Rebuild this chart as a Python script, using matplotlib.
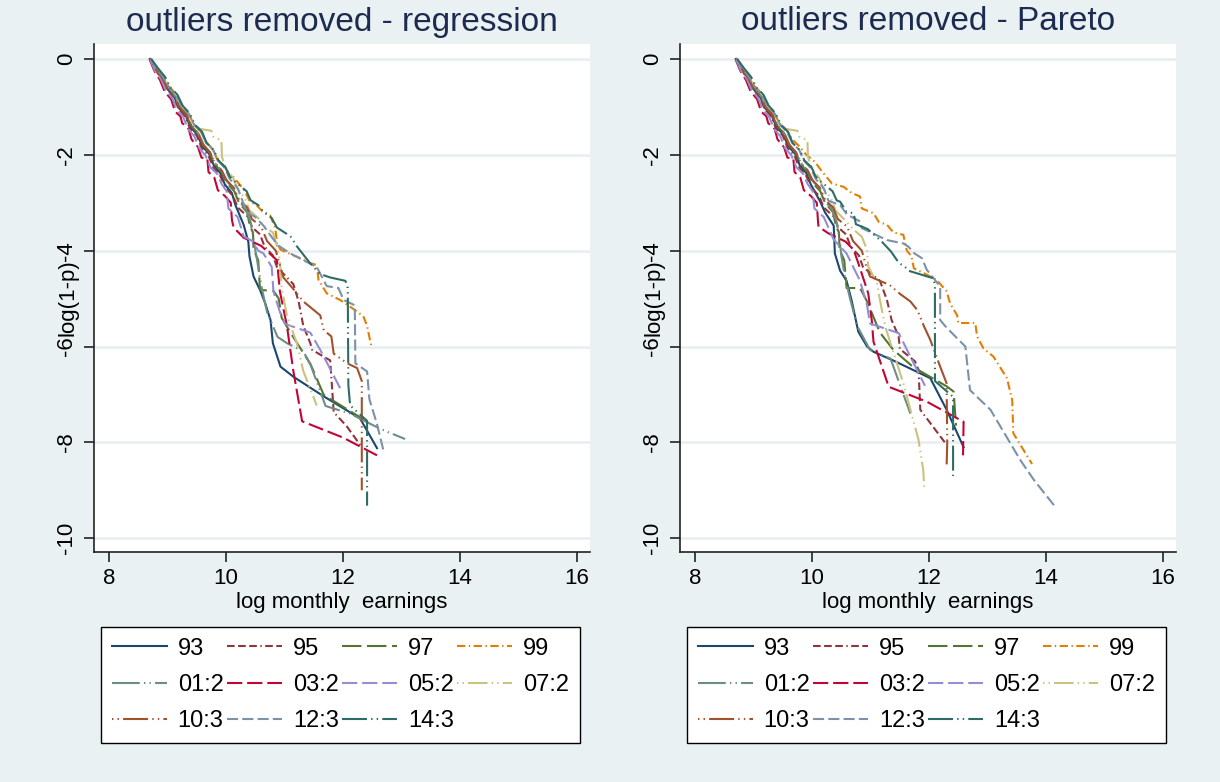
import matplotlib
matplotlib.use('Agg')
import matplotlib.pyplot as plt

plt.rcParams['font.family'] = ['Liberation Sans', 'DejaVu Sans']
plt.rcParams['lines.scale_dashes'] = False

#
# Data
#
labels = ['93', '95', '97', '99', '01:2', '03:2', '05:2', '07:2', '10:3', '12:3', '14:3']
titles = ['outliers removed - regression', 'outliers removed - Pareto']
xticks = [8, 10, 12, 14, 16]
yticks = [0, -2, -4, -6, -8, -10]

# regression panel: (log monthly earnings, log(1-p))
reg_93 = [(8.70, 0.00), (8.79, -0.22), (8.91, -0.40), (8.99, -0.62), (9.11, -0.78), (9.19, -1.02), (9.31, -1.18),
          (9.39, -1.42), (9.51, -1.58), (9.59, -1.82), (9.71, -1.98), (9.79, -2.22), (9.90, -2.38), (9.98, -2.62),
          (10.10, -2.80), (10.16, -3.05), (10.30, -3.46), (10.38, -3.81), (10.40, -4.12), (10.47, -4.54),
          (10.58, -4.82), (10.67, -5.10), (10.76, -5.45), (10.80, -5.93), (10.93, -6.42), (11.15, -6.63),
          (11.67, -7.04), (12.29, -7.50), (12.58, -8.12)]
reg_95 = [(8.70, 0.00), (8.80, -0.24), (8.90, -0.42), (9.00, -0.64), (9.10, -0.80), (9.19, -1.04), (9.30, -1.20),
          (9.38, -1.44), (9.50, -1.60), (9.58, -1.85), (9.70, -2.02), (9.78, -2.26), (9.90, -2.44), (10.00, -2.70),
          (10.12, -2.86), (10.20, -3.10), (10.36, -3.28), (10.45, -3.52), (10.58, -3.66), (10.66, -3.92),
          (10.80, -4.10), (10.87, -4.34), (11.15, -4.70), (11.24, -5.06), (11.32, -5.57), (11.44, -5.93),
          (11.47, -6.07), (11.78, -6.29), (11.84, -7.37), (12.06, -7.66), (12.32, -8.10)]
reg_97 = [(8.70, 0.00), (8.80, -0.20), (8.91, -0.40), (9.01, -0.60), (9.12, -0.78), (9.21, -1.00), (9.32, -1.16),
          (9.41, -1.40), (9.52, -1.56), (9.61, -1.80), (9.72, -1.96), (9.81, -2.20), (9.92, -2.36), (10.02, -2.60),
          (10.14, -2.76), (10.22, -3.00), (10.36, -3.20), (10.41, -3.50), (10.46, -3.62), (10.47, -3.98),
          (10.55, -4.20), (10.58, -4.82), (10.81, -4.84), (10.90, -5.00), (10.95, -5.40), (11.10, -5.71),
          (11.44, -6.36), (11.67, -7.01), (12.35, -7.52)]
reg_99 = [(8.71, 0.00), (8.82, -0.20), (8.93, -0.38), (9.03, -0.58), (9.15, -0.74), (9.24, -0.96), (9.35, -1.12),
          (9.44, -1.34), (9.56, -1.50), (9.65, -1.72), (9.77, -1.88), (9.85, -2.10), (9.97, -2.24), (10.05, -2.40),
          (10.13, -2.47), (10.30, -2.72), (10.41, -2.98), (10.52, -3.05), (10.62, -3.18), (10.75, -3.26),
          (10.84, -3.52), (10.87, -3.84), (10.93, -3.98), (11.27, -4.16), (11.44, -4.26), (11.55, -4.30),
          (11.58, -4.61), (11.72, -4.89), (11.95, -5.03), (12.24, -5.27), (12.35, -5.38), (12.41, -5.57),
          (12.49, -6.04)]
reg_012 = [(8.70, 0.00), (8.81, -0.21), (8.92, -0.41), (9.02, -0.61), (9.13, -0.78), (9.22, -1.01), (9.33, -1.17),
           (9.42, -1.40), (9.53, -1.56), (9.62, -1.80), (9.73, -1.96), (9.82, -2.18), (9.93, -2.34), (10.02, -2.56),
           (10.14, -2.72), (10.22, -2.96), (10.34, -3.14), (10.42, -3.40), (10.47, -3.77), (10.53, -4.20),
           (10.61, -4.78), (10.70, -5.28), (10.81, -5.60), (10.88, -5.80), (11.04, -5.93), (11.32, -6.10),
           (11.45, -6.40), (11.70, -7.24), (12.12, -7.40), (12.64, -7.72), (13.06, -7.93)]
reg_032 = [(8.69, 0.00), (8.77, -0.24), (8.87, -0.44), (8.95, -0.68), (9.06, -0.84), (9.13, -1.10), (9.22, -1.20),
           (9.25, -1.34), (9.36, -1.46), (9.41, -1.68), (9.52, -1.84), (9.58, -2.06), (9.68, -2.08), (9.70, -2.36),
           (9.80, -2.48), (9.86, -2.74), (9.98, -2.86), (10.08, -3.00), (10.10, -3.36), (10.13, -3.52),
           (10.30, -3.73), (10.60, -3.90), (10.87, -4.20), (10.92, -4.85), (11.04, -5.57), (11.15, -6.51),
           (11.30, -7.56), (12.00, -7.90), (12.58, -8.27)]
reg_052 = [(8.70, 0.00), (8.78, -0.24), (8.89, -0.43), (8.97, -0.66), (9.08, -0.82), (9.16, -1.06), (9.27, -1.22),
           (9.35, -1.46), (9.46, -1.62), (9.54, -1.86), (9.65, -2.02), (9.73, -2.26), (9.85, -2.40), (9.92, -2.60),
           (10.01, -2.76), (10.04, -3.12), (10.20, -3.30), (10.30, -3.70), (10.45, -3.80), (10.55, -4.00),
           (10.64, -4.06), (10.78, -4.34), (10.81, -4.85), (10.92, -5.28), (11.01, -5.53), (11.44, -5.71),
           (11.61, -6.07), (11.95, -6.87)]
reg_072 = [(8.71, 0.00), (8.81, -0.20), (8.92, -0.38), (9.02, -0.58), (9.14, -0.74), (9.22, -0.96), (9.34, -1.12),
           (9.42, -1.34), (9.55, -1.46), (9.75, -1.50), (9.78, -1.62), (9.92, -1.70), (9.93, -2.05), (10.00, -2.30),
           (10.12, -2.48), (10.20, -2.72), (10.32, -2.90), (10.40, -3.16), (10.55, -3.32), (10.65, -3.50),
           (10.80, -3.62), (10.87, -3.91), (10.92, -4.20), (10.95, -4.78), (11.04, -5.35), (11.21, -5.93),
           (11.32, -6.51), (11.55, -7.23)]
reg_103 = [(8.70, 0.00), (8.80, -0.21), (8.91, -0.40), (9.00, -0.61), (9.12, -0.77), (9.20, -1.00), (9.32, -1.16),
           (9.40, -1.40), (9.52, -1.55), (9.60, -1.78), (9.72, -1.94), (9.80, -2.16), (9.92, -2.32), (10.00, -2.52),
           (10.14, -2.70), (10.22, -2.94), (10.36, -3.10), (10.44, -3.34), (10.60, -3.50), (10.70, -3.80),
           (10.85, -4.00), (10.92, -4.30), (10.98, -4.56), (11.15, -4.80), (11.32, -5.06), (11.47, -5.21),
           (11.61, -5.35), (11.67, -5.66), (11.80, -5.79), (11.84, -6.15), (12.07, -6.35), (12.24, -6.45),
           (12.32, -6.72), (12.32, -9.00)]
reg_123 = [(8.71, 0.00), (8.82, -0.21), (8.93, -0.39), (9.03, -0.60), (9.15, -0.76), (9.24, -0.98), (9.36, -1.14),
           (9.45, -1.37), (9.57, -1.52), (9.66, -1.75), (9.78, -1.90), (9.86, -2.12), (9.98, -2.28), (10.06, -2.50),
           (10.20, -2.70), (10.28, -2.96), (10.35, -3.19), (10.50, -3.30), (10.64, -3.48), (10.80, -3.75),
           (10.90, -3.90), (11.10, -4.06), (11.32, -4.20), (11.55, -4.34), (11.72, -4.74), (11.92, -4.78),
           (12.01, -5.03), (12.20, -5.14), (12.21, -6.35), (12.41, -6.52), (12.45, -7.10), (12.58, -7.62),
           (12.69, -8.17)]
reg_143 = [(8.72, 0.00), (8.84, -0.20), (8.96, -0.38), (9.05, -0.60), (9.17, -0.75), (9.26, -0.98), (9.38, -1.14),
           (9.47, -1.38), (9.59, -1.52), (9.67, -1.76), (9.79, -1.90), (9.87, -2.12), (9.99, -2.26), (10.06, -2.45),
           (10.13, -2.54), (10.35, -2.76), (10.42, -2.95), (10.55, -3.05), (10.64, -3.19), (10.78, -3.32),
           (10.87, -3.52), (11.10, -3.70), (11.21, -3.91), (11.44, -4.27), (11.61, -4.49), (11.78, -4.56),
           (12.04, -4.63), (12.08, -4.78), (12.09, -6.80), (12.12, -7.23), (12.41, -7.55), (12.41, -9.32)]

# Pareto panel
par_93 = [(8.70, 0.00), (8.79, -0.22), (8.91, -0.40), (8.99, -0.62), (9.11, -0.78), (9.19, -1.02), (9.31, -1.18),
          (9.39, -1.42), (9.51, -1.58), (9.59, -1.82), (9.71, -1.98), (9.79, -2.22), (9.90, -2.38), (9.98, -2.62),
          (10.14, -2.98), (10.22, -3.20), (10.37, -3.48), (10.39, -4.06), (10.48, -4.42), (10.59, -4.63),
          (10.68, -5.06), (10.79, -5.69), (10.94, -6.00), (11.05, -6.11), (11.42, -6.31), (12.02, -6.66),
          (12.30, -7.32), (12.59, -8.10)]
par_95 = [(8.70, 0.00), (8.80, -0.24), (8.90, -0.42), (9.00, -0.64), (9.10, -0.80), (9.19, -1.04), (9.30, -1.20),
          (9.38, -1.44), (9.50, -1.60), (9.58, -1.85), (9.70, -2.02), (9.78, -2.26), (9.90, -2.44), (10.00, -2.70),
          (10.12, -2.86), (10.20, -3.10), (10.36, -3.28), (10.45, -3.52), (10.58, -3.66), (10.66, -3.92),
          (10.80, -4.10), (10.87, -4.34), (11.16, -4.63), (11.28, -5.03), (11.36, -5.45), (11.48, -5.79),
          (11.50, -6.05), (11.76, -6.31), (11.82, -6.49), (11.85, -7.32), (12.30, -8.05)]
par_97 = [(8.70, 0.00), (8.80, -0.20), (8.91, -0.40), (9.01, -0.60), (9.12, -0.78), (9.21, -1.00), (9.32, -1.16),
          (9.41, -1.40), (9.52, -1.56), (9.61, -1.80), (9.72, -1.96), (9.81, -2.20), (9.92, -2.36), (10.02, -2.60),
          (10.14, -2.76), (10.22, -3.00), (10.36, -3.20), (10.41, -3.50), (10.46, -3.62), (10.47, -3.98),
          (10.55, -4.20), (10.59, -4.78), (10.82, -4.78), (10.94, -5.06), (11.16, -5.71), (11.39, -6.07),
          (11.73, -6.43), (12.30, -6.83), (12.42, -6.94), (12.46, -7.65)]
par_99 = [(8.71, 0.00), (8.82, -0.20), (8.93, -0.38), (9.03, -0.58), (9.15, -0.74), (9.24, -0.96), (9.35, -1.12),
          (9.44, -1.34), (9.56, -1.48), (9.66, -1.68), (9.78, -1.82), (9.90, -2.00), (10.05, -2.15), (10.17, -2.35),
          (10.34, -2.60), (10.54, -2.67), (10.68, -2.80), (10.82, -2.87), (10.85, -3.12), (11.05, -3.22),
          (11.14, -3.40), (11.28, -3.46), (11.39, -3.62), (11.56, -3.67), (11.62, -4.00), (11.70, -4.12),
          (11.74, -4.37), (11.91, -4.47), (12.02, -4.54), (12.13, -4.61), (12.30, -4.85), (12.36, -5.10),
          (12.48, -5.35), (12.50, -5.51), (12.79, -5.51), (12.82, -5.79), (12.93, -6.04), (13.10, -6.21),
          (13.33, -6.66), (13.42, -7.11), (13.44, -7.81), (13.76, -8.45)]
par_012 = [(8.70, 0.00), (8.81, -0.21), (8.92, -0.41), (9.02, -0.61), (9.13, -0.78), (9.22, -1.01), (9.33, -1.17),
           (9.42, -1.40), (9.53, -1.56), (9.62, -1.80), (9.73, -1.96), (9.82, -2.18), (9.93, -2.34), (10.02, -2.56),
           (10.14, -2.72), (10.22, -2.96), (10.34, -3.14), (10.42, -3.40), (10.47, -3.77), (10.50, -4.10),
           (10.57, -4.60), (10.65, -5.00), (10.77, -5.57), (10.99, -6.07), (11.34, -6.25), (11.68, -7.40)]
par_032 = [(8.69, 0.00), (8.77, -0.24), (8.87, -0.44), (8.95, -0.68), (9.06, -0.84), (9.13, -1.10), (9.22, -1.20),
           (9.25, -1.34), (9.36, -1.46), (9.41, -1.68), (9.52, -1.84), (9.58, -2.06), (9.68, -2.08), (9.70, -2.36),
           (9.80, -2.48), (9.86, -2.74), (9.98, -2.86), (10.08, -3.00), (10.10, -3.36), (10.11, -3.50),
           (10.28, -3.64), (10.57, -3.81), (10.71, -3.98), (10.79, -4.26), (10.96, -4.89), (11.02, -5.45),
           (11.05, -5.90), (11.31, -6.84), (11.96, -7.15), (12.59, -7.57), (12.58, -8.27)]
par_052 = [(8.70, 0.00), (8.78, -0.24), (8.89, -0.43), (8.97, -0.66), (9.08, -0.82), (9.16, -1.06), (9.27, -1.22),
           (9.35, -1.46), (9.46, -1.62), (9.54, -1.86), (9.65, -2.02), (9.73, -2.26), (9.85, -2.40), (9.92, -2.60),
           (10.01, -2.76), (10.04, -3.12), (10.20, -3.30), (10.37, -3.77), (10.59, -4.06), (10.82, -4.63),
           (10.94, -5.14), (10.99, -5.52), (11.48, -5.72), (11.93, -6.82)]
par_072 = [(8.71, 0.00), (8.81, -0.20), (8.92, -0.38), (9.02, -0.58), (9.14, -0.74), (9.22, -0.96), (9.34, -1.12),
           (9.42, -1.34), (9.55, -1.46), (9.75, -1.50), (9.78, -1.62), (9.92, -1.70), (9.93, -2.05), (10.00, -2.30),
           (10.12, -2.48), (10.20, -2.72), (10.32, -2.90), (10.40, -3.16), (10.59, -3.40), (10.70, -3.55),
           (10.85, -3.71), (10.94, -3.98), (10.96, -4.33), (11.11, -4.68), (11.16, -5.03), (11.25, -5.58),
           (11.56, -6.77), (11.82, -7.95), (11.90, -8.57), (11.92, -9.00)]
par_103 = [(8.70, 0.00), (8.80, -0.21), (8.91, -0.40), (9.00, -0.61), (9.12, -0.77), (9.20, -1.00), (9.32, -1.16),
           (9.40, -1.40), (9.52, -1.55), (9.60, -1.78), (9.72, -1.94), (9.80, -2.16), (9.92, -2.32), (10.00, -2.52),
           (10.14, -2.70), (10.22, -2.94), (10.36, -3.10), (10.44, -3.34), (10.60, -3.50), (10.70, -3.80),
           (10.85, -4.00), (10.92, -4.30), (10.99, -4.54), (11.33, -4.72), (11.50, -4.90), (11.68, -5.06),
           (11.80, -5.24), (11.91, -5.57), (12.02, -5.86), (12.19, -6.42), (12.30, -6.77), (12.31, -8.02),
           (12.30, -8.47)]
par_123 = [(8.71, 0.00), (8.82, -0.21), (8.93, -0.39), (9.03, -0.60), (9.15, -0.76), (9.24, -0.98), (9.36, -1.14),
           (9.45, -1.37), (9.57, -1.52), (9.66, -1.75), (9.78, -1.90), (9.86, -2.12), (9.98, -2.28), (10.06, -2.50),
           (10.20, -2.70), (10.28, -2.96), (10.48, -3.05), (10.60, -3.25), (10.82, -3.39), (10.85, -3.53),
           (11.16, -3.71), (11.28, -3.78), (11.56, -3.85), (11.65, -3.92), (11.74, -4.05), (11.88, -4.16),
           (11.96, -4.40), (12.08, -4.58), (12.19, -4.75), (12.19, -5.45), (12.28, -5.58), (12.48, -5.83),
           (12.62, -6.00), (12.70, -6.91), (13.05, -7.32), (13.56, -8.37), (13.79, -8.78), (14.16, -9.35)]
par_143 = [(8.72, 0.00), (8.84, -0.20), (8.96, -0.38), (9.05, -0.60), (9.17, -0.75), (9.26, -0.98), (9.38, -1.14),
           (9.47, -1.38), (9.59, -1.52), (9.67, -1.76), (9.79, -1.90), (9.87, -2.12), (9.99, -2.26), (10.06, -2.45),
           (10.13, -2.54), (10.35, -2.76), (10.42, -2.95), (10.48, -2.98), (10.59, -3.19), (10.71, -3.22),
           (10.75, -3.45), (10.95, -3.55), (11.19, -3.81), (11.35, -4.02), (11.48, -4.25), (11.62, -4.37),
           (11.65, -4.42), (12.08, -4.58), (12.10, -4.75), (12.10, -6.72), (12.41, -7.05), (12.41, -8.70)]

reg_series = [reg_93, reg_95, reg_97, reg_99, reg_012, reg_032, reg_052, reg_072, reg_103, reg_123, reg_143]
par_series = [par_93, par_95, par_97, par_99, par_012, par_032, par_052, par_072, par_103, par_123, par_143]

#
# Styling (Stata s2color look)
#
colors = ['#1a476f', '#90353b', '#55752f', '#e37e00', '#6e8e84', '#c10534',
          '#938dd2', '#cac27e', '#a0522d', '#7b92a8', '#2d6d66']
styles = ['-',
          (0, (5.5, 2.5, 5.5, 2.5, 5.5, 2.5, 1, 2.5)),
          (0, (14, 4)),
          (0, (6, 2.5, 1, 2.5)),
          (0, (20, 3, 1, 3, 1, 3)),
          (0, (11, 3.5)),
          (0, (11, 3.5)),
          (0, (1, 3, 1, 3, 14, 3)),
          (0, (1, 3, 1, 3, 18, 3)),
          (0, (8, 3)),
          (0, (18, 3, 1, 3, 1, 3))]
bg = '#e9f1f3'
W, H = 1220, 782

fig = plt.figure(figsize=(W / 100, H / 100), dpi=100, facecolor=bg)

panels = [(94, reg_series, titles[0]), (680, par_series, titles[1])]
# legend order so that column-major filling reproduces the row-wise layout
order = [0, 4, 8, 1, 5, 9, 2, 6, 10, 3, 7]

for left_px, series, title in panels:
    ax = fig.add_axes([left_px / W, 1 - 551.7 / H, 496 / W, (551.7 - 44) / H])
    ax.set_facecolor('white')
    handles = []
    for pts, lab, c, ls in zip(series, labels, colors, styles):
        xs = [p[0] for p in pts]
        ys = [p[1] for p in pts]
        h, = ax.plot(xs, ys, color=c, linestyle=ls, linewidth=1.5, label=lab)
        handles.append(h)

    ax.set_xlim(7.743, 16.22)
    ax.set_ylim(-10.28, 0.31)
    ax.set_xticks(xticks)
    ax.set_yticks(yticks)
    ax.set_xticklabels([str(t) for t in xticks])
    ax.set_yticklabels([str(t) for t in yticks])
    ax.grid(axis='y', color='#e6eef1', linewidth=1.8)
    ax.set_axisbelow(True)
    for side in ['top', 'right']:
        ax.spines[side].set_visible(False)
    for side in ['left', 'bottom']:
        ax.spines[side].set_color('#222222')
        ax.spines[side].set_linewidth(1.2)
    ax.tick_params(axis='both', colors='#222222', width=1.2, length=7, labelsize=16, labelcolor='black')
    ax.tick_params(axis='x', pad=5)
    ax.tick_params(axis='y', pad=5)
    plt.setp(ax.get_yticklabels(), rotation=90, va='center')

    ax.set_xlabel('log monthly  earnings', fontsize=16, va='center')
    ax.xaxis.set_label_coords(0.5, -0.101)
    ax.set_ylabel('log(1-p)', fontsize=16, va='center')
    ax.yaxis.set_label_coords(-0.052, 0.5)

    cx = (left_px + 248) / W
    fig.text(cx, 1 - 22 / H, title, fontsize=24, color='#1c2b4f', ha='center', va='center')

    leg = ax.legend([handles[i] for i in order], [labels[i] for i in order],
                    loc='upper left', ncol=4, mode='expand',
                    bbox_to_anchor=((left_px + 7) / W, 1 - 738 / H, 479 / W, 111 / H),
                    bbox_transform=fig.transFigure, borderaxespad=0,
                    fontsize=17, handlelength=2.33, handletextpad=0.47,
                    columnspacing=0.4, labelspacing=0.6, borderpad=0.45,
                    fancybox=False, framealpha=1, facecolor='white', edgecolor='black')
    leg.get_frame().set_linewidth(1.0)

fig.savefig('out.png', dpi=100, facecolor=bg)
